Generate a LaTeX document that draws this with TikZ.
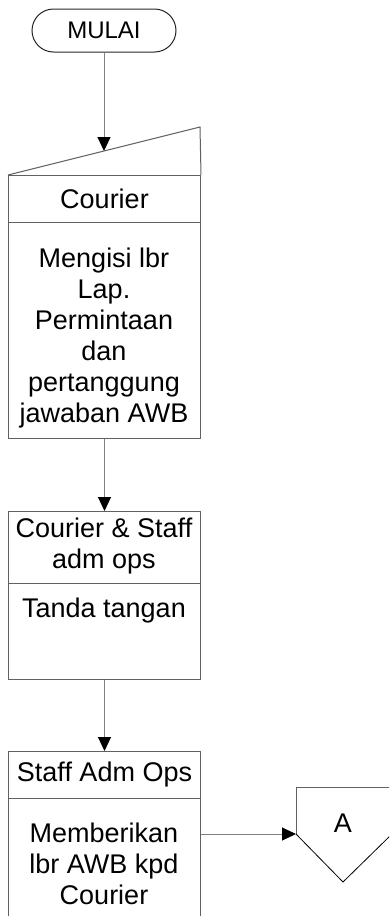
\documentclass[tikz,border=0pt]{standalone}
\usepackage{fontspec}
\setmainfont{Liberation Sans}
\usetikzlibrary{arrows.meta}
\begin{document}
\begin{tikzpicture}[x=1pt,y=-1pt,
  outl/.style={draw=black!62, line width=1pt},
  conn/.style={draw=black!50, line width=1pt, -{Triangle[length=14pt,width=13pt,color=black]}},
  txt/.style={font=\fontsize{27pt}{31pt}\selectfont, inner sep=0pt},
  boxpart/.style={outl, rectangle, minimum width=192pt, inner sep=0pt, anchor=north west}]
\useasboundingbox (0,0) rectangle (389,916);
\clip (0,0) rectangle (389,916);
\fill[white] (0,0) rectangle (389,916);

% terminal
\node[draw=black!85, line width=1pt, rounded corners=21.5pt, minimum width=144pt,
      minimum height=43pt, inner sep=0pt, font=\fontsize{24pt}{28pt}\selectfont]
      (term) at (104,30.5) {MULAI};

% manual input with header
\node[boxpart, minimum height=47pt] (cour) at (8,175) {};
\node[boxpart, minimum height=216pt] (mibody) at (8,222) {};
\draw[outl] (cour.north west) -- (200,127) -- (cour.north east);
\coordinate (mitop) at (104,151);
\node[txt] at (cour.center) {Courier};
\node[txt, anchor=base] at (104,267) {\begin{tabular}[t]{@{}c@{}}Mengisi lbr\\Lap.\\Permintaan\\dan\\pertanggung\\jawaban AWB\end{tabular}};

% second process
\node[boxpart, minimum height=72pt] (h2) at (8,511) {};
\node[boxpart, minimum height=96pt] (b2) at (8,583) {};
\node[txt, anchor=base] at (104,537) {\begin{tabular}[t]{@{}c@{}}Courier \& Staff\\adm ops\end{tabular}};
\node[txt, anchor=base] at (104,617) {Tanda tangan};

% third process
\node[boxpart, minimum height=47pt] (h3) at (8,751) {};
\node[boxpart, minimum height=140pt] (b3) at (8,798) {};
\node[txt] at (h3.center) {Staff Adm Ops};
\node[txt, anchor=base] at (104,842) {\begin{tabular}[t]{@{}c@{}}Memberikan\\lbr AWB kpd\\Courier\end{tabular}};

% off-page connector
\coordinate (offl) at (296,834);
\draw[outl] (296,834) -- (296,787) -- (392,787) -- (392,834);
\draw[black, line width=0.8pt] (296,834) -- (343,882) -- (392,834);
\node[txt, anchor=base] (offA) at (343,832) {A};

% connectors
\draw[conn] (term.south) -- (mitop);
\draw[conn] (mibody.south) -- (h2.north);
\draw[conn] (b2.south) -- (h3.north);
\draw[conn] (b3.east |- offl) -- (offl);
\end{tikzpicture}
\end{document}
